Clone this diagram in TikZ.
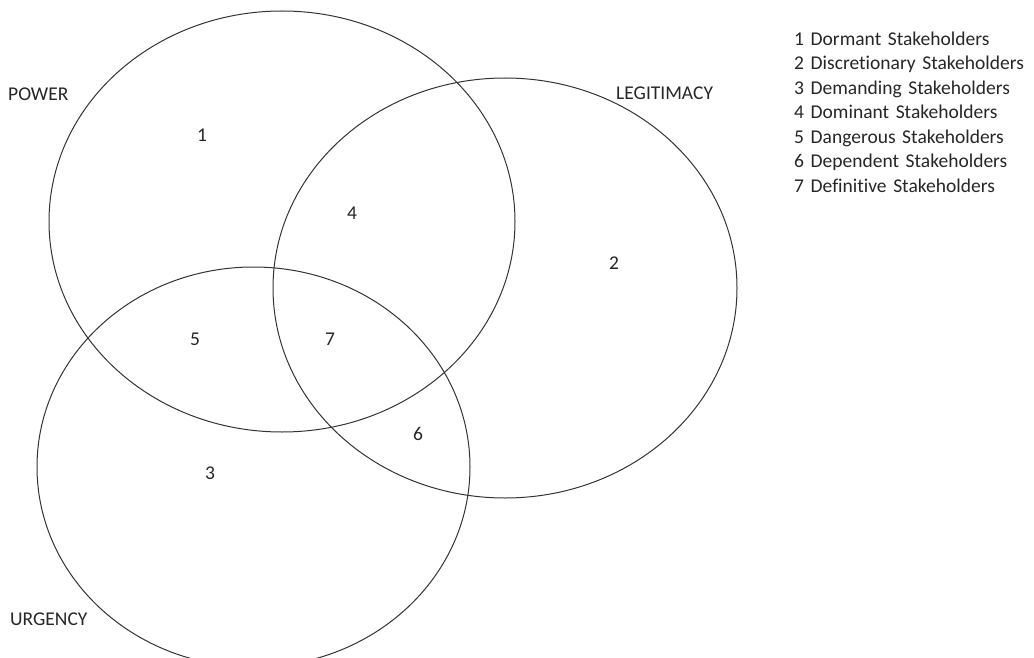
\documentclass[tikz,border=0pt]{standalone}
\usepackage{fontspec}
\setmainfont{Carlito}[Ligatures=NoCommon,WordSpace=1.5]
\usetikzlibrary{positioning}
\tikzset{ 
    ring/.style={
        draw=black!80,
        line width=1pt,
    },
    txt/.style={
        font=\fontsize{19.5}{24}\selectfont,
        text=black!85,
        inner sep=0pt,
    },
    setname/.style={
        txt,
        anchor=west,
    },
    key/.style={
        txt,
        anchor=west,
        text height=12.6pt,
        text depth=0pt,
    },
}
\begin{document}
\begin{tikzpicture}[x=1pt,y=-1pt,node distance=24.5pt]
    \useasboundingbox (0,0) rectangle (1034,658);
    \clip (0,0) rectangle (1034,658);
    \draw [ring] (282,221.5) ellipse (233 and 210.5);
    \draw [ring] (505,288) ellipse (232 and 210);
    \draw [ring] (253.5,467) ellipse (216.5 and 200);
    \node [setname] (P) at (8,94) {POWER};
    \node [setname] (L) at (616,93.5) {LEGITIMACY};
    \node [setname] (U) at (10,619) {URGENCY};
    \node [txt] (R1) at (202,135) {1};
    \node [txt] (R2) at (614,263) {2};
    \node [txt] (R3) at (210,473) {3};
    \node [txt] (R4) at (352,213) {4};
    \node [txt] (R5) at (195,339) {5};
    \node [txt] (R6) at (418,434) {6};
    \node [txt] (R7) at (330,339) {7};
    \node [key] (K1) at (794,38.8) {1 Dormant Stakeholders};
    \node [below=of K1.west,key] (K2) {2 Discretionary Stakeholders};
    \node [below=of K2.west,key] (K3) {3 Demanding Stakeholders};
    \node [below=of K3.west,key] (K4) {4 Dominant Stakeholders};
    \node [below=of K4.west,key] (K5) {5 Dangerous Stakeholders};
    \node [below=of K5.west,key] (K6) {6 Dependent Stakeholders};
    \node [below=of K6.west,key] (K7) {7 Definitive Stakeholders};
\end{tikzpicture}
\end{document}
